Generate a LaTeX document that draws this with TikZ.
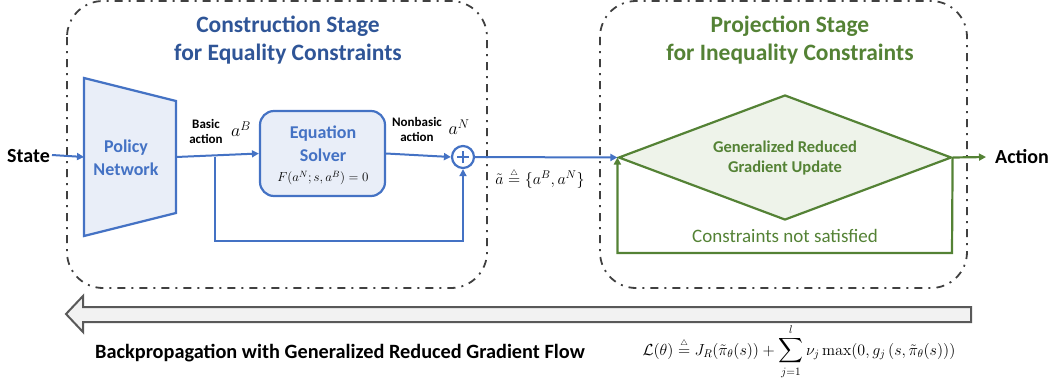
\RequirePackage{fix-cm}
\documentclass[tikz,border=0pt]{standalone}
\usepackage{exscale}
\usepackage[no-math]{fontspec}
\setmainfont{Carlito}
\usetikzlibrary{arrows.meta,shapes.geometric}
\definecolor{cblue}{HTML}{4472C4}
\definecolor{ctitle}{HTML}{2F5597}
\definecolor{cgreen}{HTML}{548235}
\definecolor{lblue}{HTML}{E9EEF8}
\definecolor{lgreen}{HTML}{EEF3EA}
\definecolor{cborder}{HTML}{404040}
\definecolor{agray}{HTML}{595959}
\definecolor{afill}{HTML}{F2F2F2}
\newcommand{\fs}[2]{\fontsize{#1}{#2}\selectfont}
\newcommand{\defeq}{\mathrel{\stackrel{\scriptscriptstyle\triangle}{=}}}
\begin{document}
\begin{tikzpicture}[x=1pt,y=-1pt,
  stagebox/.style={draw=cborder, line width=1.8pt, rounded corners=36pt,
    dash pattern=on 8pt off 6pt on 2pt off 6pt},
  bluearrow/.style={draw=cblue, line width=2pt, -{Triangle[length=7pt,width=7pt]}},
  greenarrow/.style={draw=cgreen, line width=2.2pt, -{Triangle[length=7pt,width=7pt]}},
  bluetitle/.style={text=ctitle, font=\fs{23.5}{28}\bfseries, align=center, inner sep=0},
  greentitle/.style={text=cgreen, font=\fs{23.5}{28}\bfseries, align=center, inner sep=0},
  bluelbl/.style={text=cblue, font=\fs{18}{23}\bfseries, align=center, inner sep=0},
  smalllbl/.style={font=\fs{13}{15}\bfseries, align=center, inner sep=0},
  biglbl/.style={font=\fs{20}{24}\bfseries, inner sep=0},
  solverbox/.style={draw=cblue, fill=lblue, line width=2.2pt, rounded corners=14pt,
    minimum width=125pt, minimum height=85pt, inner sep=0},
  decision/.style={diamond, draw=cgreen, fill=lgreen, line width=2.2pt,
    minimum width=333pt, minimum height=125pt, inner sep=0},
  sumnode/.style={circle, draw=cblue, fill=white, line width=2.2pt, minimum size=22pt, inner sep=0},
]
\useasboundingbox (0,0) rectangle (1060,389);

% stage boxes
\draw[stagebox] (67,1) rectangle (487,288);
\draw[stagebox] (600,1) rectangle (967,288);
\node[bluetitle] (t1) at (288,40) {Construction Stage\\for Equality Constraints};
\node[greentitle] (t2) at (790,40) {Projection Stage\\for Inequality Constraints};

% policy network
\draw[draw=cblue, fill=lblue, line width=2.2pt, line join=miter]
  (84,78) -- (176,101) -- (176,213) -- (84,236) -- cycle;
\coordinate (pnL) at (84,157);
\coordinate (pnR) at (176,157);
\node[bluelbl] (pn) at (126,158) {Policy\\Network};

% state
\node[biglbl, anchor=east] (state) at (50,156) {State};
\coordinate (st0) at ([xshift=2pt,yshift=1pt]state.east);
\draw[bluearrow] (st0) -- (pnL);

% equation solver
\node[solverbox] (es) at (322.5,153.5) {};
\node[bluelbl] (estxt) at (323,143.5) {Equation\\Solver};
\node[inner sep=0] (esf) at (323,178) {\fs{13}{15}$F(a^N;s,a^B)=0$};

% sum
\node[sumnode] (sum) at (463,157) {};
\draw[draw=cblue, line width=2pt] ([xshift=-6pt]sum.center) -- ([xshift=6pt]sum.center);
\draw[draw=cblue, line width=2pt] ([yshift=-6pt]sum.center) -- ([yshift=6pt]sum.center);

\draw[bluearrow] (pnR) -- (es.west);
\coordinate (br) at (214.5,157);
\coordinate (bl) at (214.5,240.5);
\draw[bluearrow] (br) -- (bl) -| (sum.south);
\draw[bluearrow] (es.east) -- (sum.west);

\node[smalllbl] (bal) at (206,131) {Basic\\action};
\node[inner sep=0] (aB) at (241,129) {\fs{18}{20}$a^B$};
\node[smalllbl] (nbl) at (417,129.5) {Nonbasic\\action};
\node[inner sep=0] (aN) at (459,127) {\fs{18}{20}$a^N$};

% diamond
\node[decision] (dg) at (785,157.5) {};
\node[text=cgreen, font=\fs{16.5}{20}\bfseries, align=center, inner sep=0] (dgt) at (785,158) {Generalized Reduced\\Gradient Update};
\draw[bluearrow] (sum.east) -- (dg.west);
\node[inner sep=0] (atl) at (540,178) {\fs{16}{18}$\tilde a\defeq\{a^B,a^N\}$};

\coordinate (lr) at (952,253);
\draw[greenarrow] (dg.east) -- (lr) -| (dg.west);
\node[text=cgreen, font=\fs{19}{22}, inner sep=0] (cns) at (785,236) {Constraints not satisfied};

\node[biglbl, anchor=west] (act) at (995,157) {Action};
\draw[greenarrow] (dg.east) -- ([xshift=-9pt]act.west);

% backprop arrow
\draw[draw=agray, fill=afill, line width=2pt, line join=miter]
  (971,307) -- (83,307) -- (83,296) -- (66,314) -- (83,332) -- (83,322) -- (971,322) -- cycle;
\node[biglbl, font=\fs{20.3}{24}\bfseries] (bp) at (340,353) {Backpropagation with Generalized Reduced Gradient Flow};
\node[inner sep=0, anchor=base] (loss) at (799,355) {\fs{16}{20}$\displaystyle \mathcal{L}(\theta)\defeq J_R(\tilde\pi_\theta(s))+\sum_{j=1}^{l}\nu_j\max(0,g_j\left(s,\tilde\pi_\theta(s)\right))$};
\end{tikzpicture}
\end{document}
